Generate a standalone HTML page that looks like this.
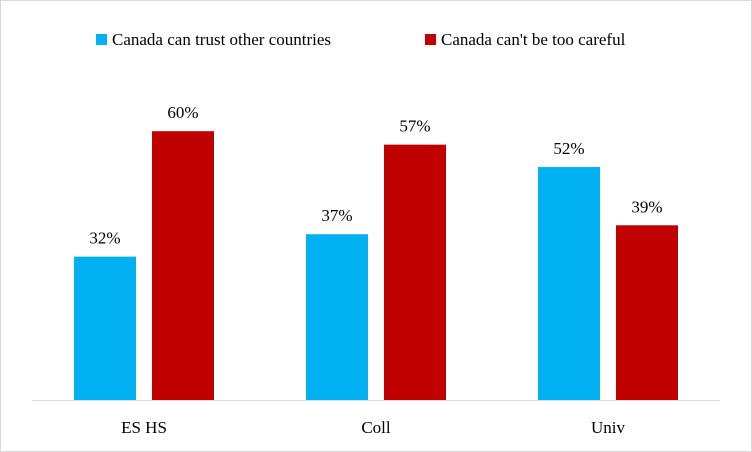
<!DOCTYPE html>
<html><head><meta charset="utf-8"><style>
html,body{margin:0;padding:0;background:#fff;}
svg{display:block;font-family:"Liberation Serif",serif;}
</style></head><body>
<svg width="752" height="452" viewBox="0 0 752 452">
<rect x="0.5" y="0.5" width="751" height="451" fill="#fff" stroke="#d9d9d9"/>
<g>
<rect x="96" y="34" width="11" height="11" fill="#00b0f0"/>
<text x="112" y="45" font-size="17" fill="#000">Canada can trust other countries</text>
<rect x="425" y="34" width="11" height="11" fill="#c00000"/>
<text x="441" y="45" font-size="17" fill="#000">Canada can't be too careful</text>
</g>
<g id="plot"></g>
<line x1="32" y1="400.5" x2="720" y2="400.5" stroke="#d9d9d9"/>
</svg>
<script>
const categories = ["ES HS", "Coll", "Univ"];
const trustValues = [32, 37, 52];
const carefulValues = [60, 57, 39];
const valueLabelsTrust = ["32%", "37%", "52%"];
const valueLabelsCareful = ["60%", "57%", "39%"];

const NS = "http://www.w3.org/2000/svg";
const plot = document.getElementById("plot");
const baseY = 400, pxPer = 4.48;
function yScale(v){ return baseY - v * pxPer; }
function groupX(i){ return 74 + i * 232; }
const barW = 62;
function mk(tag, attrs){ const e = document.createElementNS(NS, tag); for (const k in attrs) e.setAttribute(k, attrs[k]); return e; }
categories.forEach((c, i) => {
  const series = [[trustValues, valueLabelsTrust, "#00b0f0", 0, "trust"], [carefulValues, valueLabelsCareful, "#c00000", 78, "careful"]];
  series.forEach(s => {
    const v = s[0][i];
    const x = groupX(i) + s[3];
    const y = yScale(v);
    const r = mk("rect", {x: x, y: y, width: barW, height: baseY - y, fill: s[2]});
    
    
    plot.appendChild(r);
    const t = mk("text", {x: x + barW / 2, y: y - 13, "text-anchor": "middle", "font-size": "17", fill: "#000"});
    t.textContent = s[1][i];
    
    
    plot.appendChild(t);
  });
  const lab = mk("text", {x: groupX(i) + 70, y: 433, "text-anchor": "middle", "font-size": "17", fill: "#000"});
  lab.textContent = c;
  
  
  plot.appendChild(lab);
});
</script>
</body></html>
